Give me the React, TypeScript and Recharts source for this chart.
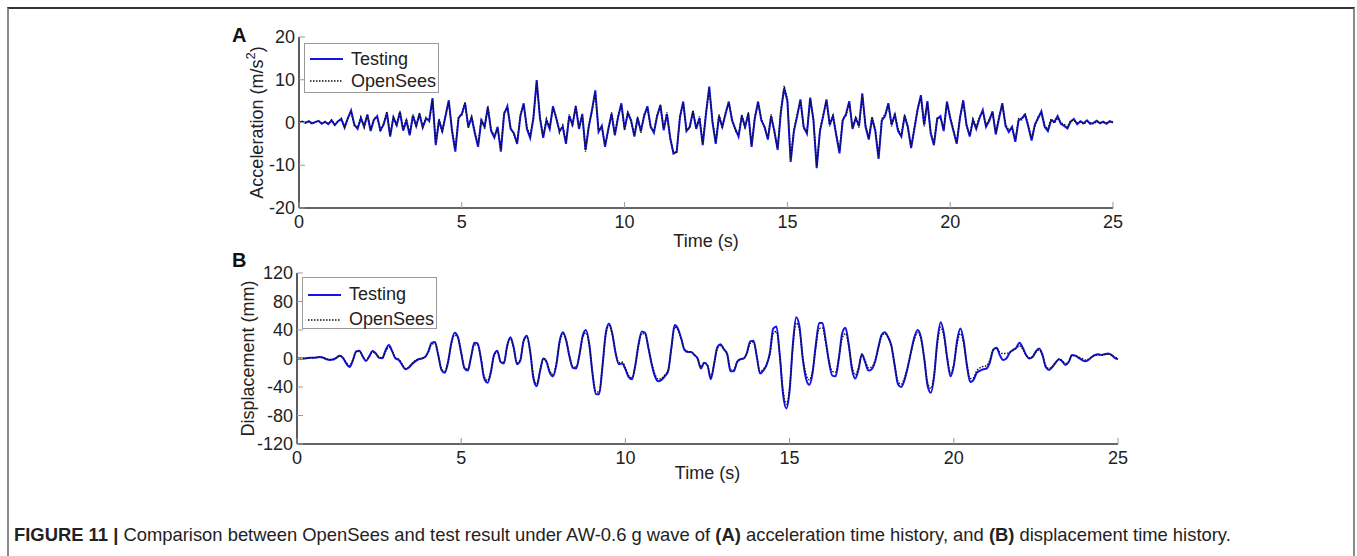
import { LineChart, Line, XAxis, YAxis, Legend } from 'recharts';

// sampling interval of both records (s)
const STEP = 0.1;

// (A) acceleration, m/s2, one value per 0.1 s from 0 to 25 s
const accTesting = [
  0.0, 0.2, -0.1, 0.3, -0.2, 0.1, 0.4, -0.3, 0.2, -0.4,
  0.5, -0.6, 0.3, 0.8, -1.2, 1.0, 2.8, -0.5, -1.5, 1.0,
  -0.9, 1.8, -2.0, 0.6, 1.5, -1.8, -0.5, 2.2, -3.3, 1.2,
  -0.6, 2.4, -1.9, 0.4, -3.0, 1.6, -0.8, 2.0, -1.2, 0.9,
  0.5, 5.7, -5.3, 0.5, -2.0, 1.5, 5.2, -2.0, -6.8, 1.0,
  2.0, 4.5, -1.0, 1.2, -2.5, -5.7, 0.5, -1.0, 3.5, -2.0,
  -3.5, -1.0, -6.8, 2.0, 3.8, -1.5, -2.5, -5.0, 1.5, 4.5,
  -1.5, -3.6, 1.0, 9.9, 1.0, -3.6, 0.5, -1.5, 3.8, 1.0,
  -2.0, -1.0, -5.0, 1.5, -0.5, 3.7, -1.5, 2.0, -6.4, -1.0,
  3.0, 7.5, -2.2, -0.8, -5.7, -1.5, 2.0, -3.0, 1.2, 4.5,
  -1.5, 2.2, 0.5, -3.3, 1.0, -2.0, 1.5, 3.8, -0.9, -2.4,
  1.5, 4.1, -1.8, 2.0, -3.5, -7.3, -6.8, 1.2, 4.9, -2.0,
  -1.0, 2.5, -1.5, 1.0, -5.3, 2.0, 8.4, 0.0, -5.0, 1.5,
  -1.0, 2.0, 4.9, 0.5, -1.5, -3.3, 1.5, -1.0, 2.0, -5.7,
  1.0, 4.9, 0.5, -1.0, -4.0, 1.5, -2.0, -6.4, 2.5, 8.0,
  5.0, -9.2, -2.0, 1.5, 5.4, -1.0, -2.6, 5.8, 0.5, -10.7,
  -2.0, 1.5, 5.4, -0.5, 1.5, -3.0, -7.2, 0.5, 2.0, 5.0,
  -1.5, 1.0, -0.8, 6.8, -1.0, -4.0, 1.0, -2.0, -8.5, 0.5,
  1.5, 4.5, -0.5, 1.8, -2.0, -3.3, 1.5, -1.0, -6.0, -1.5,
  3.0, 6.4, -0.5, 5.0, -2.5, -5.3, 0.8, 1.5, -2.0, 4.9,
  1.0, -2.0, -5.0, 1.0, 5.2, -0.5, -3.3, 0.5, -1.5, 1.0,
  2.9, -1.0, 0.4, 2.6, -2.8, 1.0, 4.5, -0.8, -2.2, -1.0,
  -4.5, 0.5, 1.0, 1.8, -1.0, -4.2, -0.5, 1.0, 2.6, -1.0,
  -2.0, 0.5, 0.2, 1.5, -0.3, -0.8, -1.4, 0.2, 0.8, -0.4,
  0.3, -0.2, 0.5, -0.3, -0.1, 0.4, -0.2, 0.2, -0.3, 0.3,
  0.0,
];

const accOpenSees = [
  0.0, 0.1, 0.0, 0.2, -0.3, 0.2, 0.3, -0.2, 0.1, -0.3,
  0.6, -0.4, 0.2, 1.0, -1.0, 0.8, 2.5, -0.8, -1.2, 1.3,
  -1.2, 2.0, -1.6, 0.9, 1.2, -2.1, -0.2, 2.6, -3.0, 1.5,
  -0.9, 2.7, -1.5, 0.8, -2.6, 1.9, -1.1, 2.3, -0.9, 1.2,
  0.2, 5.2, -4.8, 0.9, -2.4, 1.9, 4.7, -1.6, -6.2, 1.5,
  1.6, 4.9, -1.4, 1.6, -2.1, -5.2, 0.9, -1.4, 3.9, -1.6,
  -3.1, -1.4, -6.2, 2.4, 3.4, -1.1, -2.9, -4.6, 1.9, 4.1,
  -1.1, -3.2, 1.4, 9.4, 1.4, -3.2, 0.9, -1.1, 3.4, 1.4,
  -2.4, -0.6, -4.6, 1.9, -0.9, 4.1, -1.1, 1.6, -6.8, -0.6,
  2.6, 7.0, -1.8, -1.2, -5.2, -1.9, 2.4, -2.6, 1.6, 4.1,
  -1.9, 2.6, 0.1, -2.9, 1.4, -2.4, 1.9, 3.4, -1.3, -2.0,
  1.9, 3.7, -1.4, 2.4, -3.9, -6.9, -7.2, 1.6, 4.5, -1.6,
  -1.4, 2.9, -1.1, 1.4, -4.9, 2.4, 7.9, 0.4, -4.6, 1.9,
  -1.4, 2.4, 4.5, 0.9, -1.9, -2.9, 1.9, -1.4, 2.4, -5.3,
  1.4, 4.5, 0.9, -1.4, -3.6, 1.9, -2.4, -6.0, 2.9, 8.6,
  5.6, -8.6, -1.6, 1.9, 5.0, -1.4, -2.2, 5.4, 0.9, -10.2,
  -1.6, 1.9, 5.0, -0.9, 1.9, -2.6, -6.7, 0.9, 1.6, 4.6,
  -1.1, 1.4, -1.2, 6.3, -0.6, -3.6, 1.4, -1.6, -8.0, 0.9,
  1.9, 4.1, -0.9, 2.2, -1.6, -2.9, 1.9, -1.4, -5.6, -1.1,
  3.4, 6.0, -0.9, 4.6, -2.1, -4.9, 1.2, 1.1, -1.6, 4.5,
  1.4, -1.6, -4.6, 1.4, 4.8, -0.9, -2.9, 0.9, -1.1, 1.4,
  2.5, -0.6, 0.8, 2.2, -2.4, 1.4, 4.1, -0.4, -1.8, -1.4,
  -4.1, 0.9, 0.6, 2.2, -0.6, -3.8, -0.9, 1.4, 2.2, -0.6,
  -1.6, 0.9, -0.2, 1.1, -0.1, -0.4, -1.0, 0.5, 0.5, -0.1,
  0.1, -0.4, 0.3, -0.1, -0.3, 0.2, 0.0, 0.0, -0.1, 0.2,
  0.1,
];

// (B) displacement, mm, one value per 0.1 s from 0 to 25 s
const dispTesting = [
  0, 0, 0, 0.5, 1, 1, 1.5, 2, 1, -1,
  -2, -1.5, 1, 4, 1, -7, -12, -3, 10, 11,
  3, -3.5, 3, 10.5, 7, 1, 0.5, 12, 19, 10,
  0, -2, -9, -15, -13, -8, -4, -1, 0, 2,
  10, 22, 23, 5, -16, -20, -5, 22, 36, 30,
  8, -14, -17, 2, 22, 21, 0, -28, -34, -20,
  5, 11, -5, -7, 18, 30, 15, -8, -3, 25,
  32, 10, -28, -39, -18, 0, -5, -20, -25, -8,
  25, 37, 25, 2, -13, -14, 5, 32, 40, 20,
  -22, -50, -50, -12, 35, 49, 35, 8, -8, -7,
  -15, -26, -29, -10, 20, 38, 36, 15, -8, -25,
  -32, -30, -25, -18, 15, 47, 42, 28, 12, 9,
  9, 5, 0, -14, -6, -10, -29, -8, 16, 20,
  13, 6, -18, -18, -5, -1, 0, 8, 24, 25,
  3, -21, -17, -9, 8, 42, 45, 5, -50, -70,
  -45, 20, 58, 45, 0, -28, -37, -20, 20, 50,
  50, 25, -5, -24, -25, 0, 35, 43, 20, -15,
  -28, -15, 6, -5, -17, -15, -5, 15, 33, 37,
  30, 18, -10, -36, -40, -30, -12, 10, 30, 40,
  30, 0, -38, -48, -25, 25, 51, 35, 0, -25,
  -10, 25, 42, 25, -10, -33, -30, -20, -17, -15,
  -14, -5, 12, 15, 5, -2, 0, 8, 12, 15,
  22, 15, 5, 0, 2, 10, 14, 5, -12, -16,
  -12, -6, -1, -4, -9, -5, 5, 4, 1, -2,
  -4, -2, 2, 5, 6, 5, 6, 7, 5, 1,
  -1,
];

const dispOpenSees = [
  0, 0, 0, 0.5, 1, 1, 1.5, 2, 1, -0.5,
  -1.5, -1, 1, 3.5, 1, -6, -10, -2, 9, 10,
  3, -2.5, 3, 9, 7, 2, 1, 10, 16, 10,
  1, -1, -8, -14, -12, -7, -3, -1, 0, 2,
  9, 20, 21, 5, -14, -18, -4, 20, 33, 29,
  8, -12, -15, 2, 19, 19, 1, -25, -31, -19,
  4, 9, -4, -5, 17, 28, 14, -6, -1, 24,
  30, 10, -25, -36, -17, 0, -4, -18, -22, -6,
  23, 34, 24, 3, -11, -12, 5, 29, 36, 19,
  -20, -46, -47, -12, 32, 46, 34, 9, -6, -5,
  -13, -24, -27, -10, 18, 35, 34, 15, -6, -22,
  -29, -28, -23, -16, 14, 44, 40, 27, 13, 10,
  9, 5, 0, -12, -6, -9, -26, -8, 14, 18,
  13, 7, -15, -16, -5, -1, 0, 7, 21, 23,
  4, -18, -15, -8, 6, 35, 38, 5, -44, -64,
  -42, 16, 50, 40, 2, -22, -30, -17, 16, 42,
  43, 22, -3, -18, -19, 1, 28, 35, 18, -11,
  -23, -13, 6, -3, -13, -12, -3, 14, 31, 35,
  29, 17, -8, -32, -36, -27, -11, 9, 27, 36,
  27, 0, -33, -42, -22, 21, 44, 31, 1, -20,
  -8, 20, 35, 21, -8, -28, -27, -17, -13, -11,
  -10, -2, 12, 15, 9, 7, 7, 9, 11, 14,
  18, 13, 5, 1, 3, 9, 12, 4, -10, -14,
  -11, -5, -1, -3, -7, -4, 4, 4, 2, 0,
  -2, -1, 2, 4, 5, 5, 6, 6, 5, 2,
  0,
];

const timeTicks = [0, 5, 10, 15, 20, 25];
const accTicks = [-20, -10, 0, 10, 20];
const dispTicks = [-120, -80, -40, 0, 40, 80, 120];

const FONT = '"Liberation Sans", Arial, Helvetica, sans-serif';
const INK = '#222';
const TICK_MARGIN_X = 7;
const TICK_MARGIN_Y = 4;

const seriesOrder = ['testing', 'opensees'];
const seriesStyle: Record<string, { color: string; width: number; dash?: string }> = {
  testing: { color: '#1414e6', width: 2, dash: undefined },
  opensees: { color: '#111111', width: 1.4, dash: '1.5 1.5' },
};

function buildRows(a: number[], b: number[]) {
  return a.map((v, i) => ({ t: Math.round(i * STEP * 10) / 10, testing: v, opensees: b[i] }));
}

const accRows = buildRows(accTesting, accOpenSees);
const dispRows = buildRows(dispTesting, dispOpenSees);

function XTick(props: any) {
  const { x, y, payload } = props;
  const axisY = y - TICK_MARGIN_X;
  return (
    <g>
      <line x1={x} x2={x} y1={axisY} y2={axisY - 6} stroke="#999" strokeWidth={1} />
      <text x={x} y={y} dy={13} textAnchor="middle" fontSize={18} fill={INK} fontFamily={FONT}>
        {payload.value}
      </text>
    </g>
  );
}

function YTick(props: any) {
  const { x, y, payload } = props;
  const axisX = x + TICK_MARGIN_Y;
  return (
    <g>
      <line x1={axisX} x2={axisX + 6} y1={y} y2={y} stroke="#999" strokeWidth={1} />
      <text x={x} y={y} dy={6} textAnchor="end" fontSize={18} fill={INK} fontFamily={FONT}>
        {payload.value}
      </text>
    </g>
  );
}

function TimeLabel(props: any) {
  const { viewBox, drop } = props;
  const cx = viewBox.x + viewBox.width / 2;
  return (
    <text x={cx} y={viewBox.y + drop} textAnchor="middle" fontSize={18} fill={INK} fontFamily={FONT}>
      Time (s)
    </text>
  );
}

function SideLabel(props: any) {
  const { viewBox, inset, children } = props;
  const bx = viewBox.x + inset;
  const cy = viewBox.y + viewBox.height / 2;
  return (
    <text x={bx} y={cy} transform={`rotate(-90 ${bx} ${cy})`} textAnchor="middle"
      fontSize={18} fill={INK} fontFamily={FONT}>
      {children}
    </text>
  );
}

function LegendBox(props: any) {
  const { payload, rowGap, boxHeight } = props;
  const items = [...(payload || [])].sort(
    (a: any, b: any) => seriesOrder.indexOf(a.dataKey) - seriesOrder.indexOf(b.dataKey),
  );
  return (
    <div style={{
      width: 135, height: boxHeight, boxSizing: 'border-box', border: '1px solid #9a9a9a',
      background: '#fff', paddingTop: 4, fontFamily: FONT, fontSize: 18, color: INK,
    }}>
      {items.map((entry: any) => {
        const s = seriesStyle[entry.dataKey];
        return (
          <div key={entry.dataKey} style={{ display: 'flex', alignItems: 'center', height: rowGap, lineHeight: `${rowGap}px` }}>
            <svg width={42} height={10} style={{ marginLeft: 5, flex: 'none' }}>
              <line x1={0} x2={33} y1={5} y2={5} stroke={s.color} strokeWidth={s.dash ? 1.4 : 2.2}
                strokeDasharray={s.dash} />
            </svg>
            <span style={{ marginLeft: -1 }}>{entry.value}</span>
          </div>
        );
      })}
    </div>
  );
}

function Panel(props: any) {
  const { rows, ticks, domain, width, height, margin, legendPos, legendRow, legendHeight, timeDrop, sideInset, sideText, curve } = props;
  return (
    <LineChart width={width} height={height} data={rows} margin={margin}>
      <XAxis dataKey="t" type="number" domain={[0, 25]} ticks={timeTicks} height={45}
        axisLine={{ stroke: '#333', strokeWidth: 1.6 }} tickLine={false} tickSize={0}
        tickMargin={TICK_MARGIN_X} tick={<XTick />} interval={0}
        label={<TimeLabel drop={timeDrop} />} />
      <YAxis type="number" domain={domain} ticks={ticks} width={60} allowDataOverflow
        axisLine={{ stroke: '#333', strokeWidth: 1.6 }} tickLine={false} tickSize={0}
        tickMargin={TICK_MARGIN_Y} tick={<YTick />} interval={0}
        label={<SideLabel inset={sideInset}>{sideText}</SideLabel>} />
      <Legend layout="vertical" align="center" verticalAlign="middle"
        wrapperStyle={{ left: legendPos[0], top: legendPos[1], width: 135 }}
        content={<LegendBox rowGap={legendRow} boxHeight={legendHeight} />} />
      <Line type={curve} dataKey="testing" name="Testing" stroke={seriesStyle.testing.color}
        strokeWidth={seriesStyle.testing.width} dot={false} isAnimationActive={false} />
      <Line type={curve} dataKey="opensees" name="OpenSees" stroke={seriesStyle.opensees.color}
        strokeWidth={seriesStyle.opensees.width} strokeDasharray={seriesStyle.opensees.dash}
        dot={false} isAnimationActive={false} />
    </LineChart>
  );
}

export default function App() {
  return (
    <div style={{ position: 'absolute', left: 0, top: 0, width: 1357, height: 556, background: '#fff', overflow: 'hidden', fontFamily: FONT }}>
      {/* figure frame */}
      <div style={{ position: 'absolute', left: 7, top: 7, width: 1348, height: 560, borderTop: '2px solid #333',
        borderLeft: '2px solid #8a8a8a', borderRight: '2px solid #8a8a8a', boxSizing: 'border-box' }} />

      <div style={{ position: 'absolute', left: 0, top: 0 }}>
        <Panel rows={accRows} ticks={accTicks} domain={[-20, 20]} width={1357} height={260}
          margin={{ top: 37, right: 244, bottom: 7, left: 239 }}
          legendPos={[304, 43]} legendRow={22} legendHeight={50} curve="linear"
          timeDrop={39} sideInset={24}
          sideText={<>Acceleration (m/s<tspan dy={-8} fontSize={13}>2</tspan><tspan dy={8}>)</tspan></>} />
      </div>
      <div style={{ position: 'absolute', left: 0, top: 250 }}>
        <Panel rows={dispRows} ticks={dispTicks} domain={[-120, 120]} width={1357} height={250}
          margin={{ top: 23, right: 239, bottom: 11, left: 237 }}
          legendPos={[302, 27]} legendRow={25} legendHeight={52} curve="monotone"
          timeDrop={35} sideInset={17}
          sideText="Displacement (mm)" />
      </div>

      <div style={{ position: 'absolute', left: 232, top: 24, fontSize: 20, fontWeight: 700, color: '#111' }}>A</div>
      <div style={{ position: 'absolute', left: 232, top: 249, fontSize: 20, fontWeight: 700, color: '#111' }}>B</div>

      <div style={{ position: 'absolute', left: 14, top: 524, fontSize: 18.4, color: '#222', whiteSpace: 'nowrap' }}>
        <b>FIGURE 11 |</b> Comparison between OpenSees and test result under AW-0.6 g wave of <b>(A)</b> acceleration time history, and <b>(B)</b> displacement time history.
      </div>
    </div>
  );
}
